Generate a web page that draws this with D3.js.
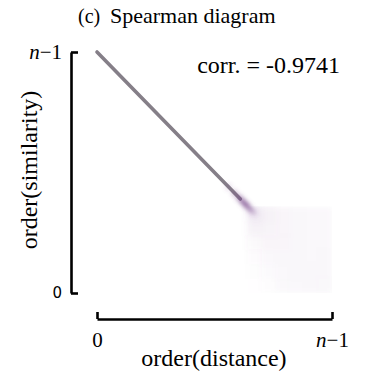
<!DOCTYPE html>
<html>
<head>
<meta charset="utf-8">
<script src="https://cdn.jsdelivr.net/npm/d3@7"></script>
<style>
  html, body { margin: 0; padding: 0; background: #fff; }
  svg { display: block; }
</style>
</head>
<body>
<div id="chart"></div>
<script>
// Spearman diagram: rank of similarity vs rank of distance (normalised to [0, n-1]).

const panelTag = "(c)";
const title = "Spearman diagram";
const corrLabel = "corr. = -0.9741";
const xLabel = "order(distance)";
const yLabel = "order(similarity)";
const tickValues = [0, 1];
const tickLabels = ["0", "n\u22121"];

// Tight diagonal band: normalised distance ranks where it runs
const diagonalX = [0, 0.61];
// Smudge where the band breaks up (normalised x rank, relative density)
const tailX = [0.56, 0.585, 0.605, 0.62, 0.635, 0.65, 0.665];
const tailDensity = [0.25, 0.45, 0.7, 0.95, 1.0, 0.7, 0.35];
// Diffuse cloud of the remaining pairs: column edges (x rank), row edges (y rank), density per cell
const cloudXEdges = [0.64, 0.70, 0.76, 0.82, 0.88, 0.94, 1.0];
const cloudYEdges = [0.36, 0.30, 0.24, 0.18, 0.12, 0.06, 0.0];
const cloudDensity = [
  [0.95, 0.55, 0.40, 0.35, 0.32, 0.32],
  [0.55, 0.50, 0.40, 0.35, 0.32, 0.32],
  [0.25, 0.40, 0.38, 0.34, 0.32, 0.32],
  [0.10, 0.30, 0.35, 0.33, 0.32, 0.33],
  [0.05, 0.22, 0.32, 0.33, 0.33, 0.34],
  [0.02, 0.15, 0.28, 0.32, 0.34, 0.36]
];

const SERIF = "'Liberation Serif'";
const SANS = "'DejaVu Sans'";

const W = 368, H = 378;
const svg = d3.select("#chart").append("svg").attr("width", W).attr("height", H);
const defs = svg.append("defs");

defs.append("filter").attr("id", "soft").attr("x", "-20%").attr("y", "-20%").attr("width", "140%").attr("height", "140%")
  .append("feGaussianBlur").attr("stdDeviation", 0.6);
defs.append("filter").attr("id", "blob").attr("x", "-100%").attr("y", "-100%").attr("width", "300%").attr("height", "300%")
  .append("feGaussianBlur").attr("stdDeviation", 2.2);
defs.append("filter").attr("id", "haze").attr("x", "-20%").attr("y", "-20%").attr("width", "140%").attr("height", "140%")
  .append("feGaussianBlur").attr("stdDeviation", 3);

const x = d3.scaleLinear().domain([0, 1]).range([97, 332]);
const y = d3.scaleLinear().domain([0, 1]).range([293, 52]);
const alpha = d3.scaleLinear().domain([0, 1]).range([0, 0.14]);

defs.append("clipPath").attr("id", "cloudClip").append("rect")
  .attr("x", x(d3.min(cloudXEdges)) - 8)
  .attr("y", y(d3.max(cloudYEdges)))
  .attr("width", x(d3.max(cloudXEdges)) - x(d3.min(cloudXEdges)) + 8)
  .attr("height", y(d3.min(cloudYEdges)) - y(d3.max(cloudYEdges)));

// Cloud cells
const cells = [];
cloudDensity.forEach((row, r) => row.forEach((v, c) => cells.push({ r, c, v })));
svg.append("g").attr("clip-path", "url(#cloudClip)")
  .append("g").attr("filter", "url(#haze)")
  .selectAll("rect").data(cells).join("rect")
  .attr("x", d => x(cloudXEdges[d.c]))
  .attr("y", d => y(cloudYEdges[d.r]))
  .attr("width", d => x(cloudXEdges[d.c + 1]) - x(cloudXEdges[d.c]) + 0.5)
  .attr("height", d => y(cloudYEdges[d.r + 1]) - y(cloudYEdges[d.r]) + 0.5)
  .attr("fill", "#8a5a9a")
  .attr("fill-opacity", d => alpha(d.v));

// Diagonal band (perfect anti-correlation of ranks)
svg.append("path")
  .datum(diagonalX)
  .attr("d", d3.line().x(d => x(d)).y(d => y(1 - d)))
  .attr("stroke", "#857f88")
  .attr("stroke-width", 3.6)
  .attr("stroke-linecap", "round")
  .attr("fill", "none")
  .attr("filter", "url(#soft)");

// Purple smudge where the band dissolves
svg.append("g").attr("filter", "url(#blob)")
  .selectAll("circle").data(tailX.map((t, i) => ({ t, d: tailDensity[i] }))).join("circle")
  .attr("cx", d => x(d.t))
  .attr("cy", d => y(1 - d.t))
  .attr("r", 3.2)
  .attr("fill", "#7a4a8c")
  .attr("fill-opacity", d => d.d * 0.75);

// Axes (offset spines, inward ticks)
const yAxis = d3.axisLeft(y).tickValues(tickValues).tickSizeInner(-7).tickSizeOuter(0).tickPadding(9)
  .tickFormat((d, i) => tickLabels[i]);
const gy = svg.append("g").attr("transform", "translate(71,0)").call(yAxis);
const xAxis = d3.axisBottom(x).tickValues(tickValues).tickSizeInner(-7).tickSizeOuter(0).tickPadding(13)
  .tickFormat((d, i) => tickLabels[i]);
const gx = svg.append("g").attr("transform", "translate(0,319)").call(xAxis);

[gx, gy].forEach(g => {
  g.attr("font-family", null).attr("font-size", null);
  g.select(".domain").attr("stroke", "#000").attr("stroke-width", 2.6);
  g.selectAll(".tick line").attr("stroke", "#000").attr("stroke-width", 2.6);
  g.selectAll(".tick text").attr("fill", "#000");
});

// "n−1": italic n followed by upright "−1"
function mathLabel(sel) {
  sel.each(function (d, i) {
    const t = d3.select(this);
    const label = tickLabels[i];
    if (label.startsWith("n")) {
      t.text(null).style("font-family", SERIF).style("font-size", "21px");
      t.append("tspan").style("font-style", "italic").text("n");
      t.append("tspan").text(label.slice(1));
    }
  });
}
gx.selectAll(".tick text").style("font-family", SERIF).style("font-size", "21px").call(mathLabel);
gy.selectAll(".tick text").style("font-family", SANS).style("font-size", "15px").call(mathLabel);

// Texts
svg.append("text").attr("x", 78).attr("y", 23)
  .style("font-family", SERIF).style("font-size", "20px").text(panelTag);
svg.append("text").attr("x", 110).attr("y", 23)
  .style("font-family", SERIF).style("font-size", "22px").text(title);
svg.append("text").attr("x", 340).attr("y", 73).attr("text-anchor", "end")
  .style("font-family", SERIF).style("font-size", "24px").text(corrLabel);
svg.append("text").attr("x", 214).attr("y", 366).attr("text-anchor", "middle")
  .style("font-family", SERIF).style("font-size", "24px").text(xLabel);
svg.append("text")
  .attr("transform", "translate(37,170) rotate(-90)").attr("text-anchor", "middle")
  .style("font-family", SERIF).style("font-size", "24px").text(yLabel);
</script>
</body>
</html>
